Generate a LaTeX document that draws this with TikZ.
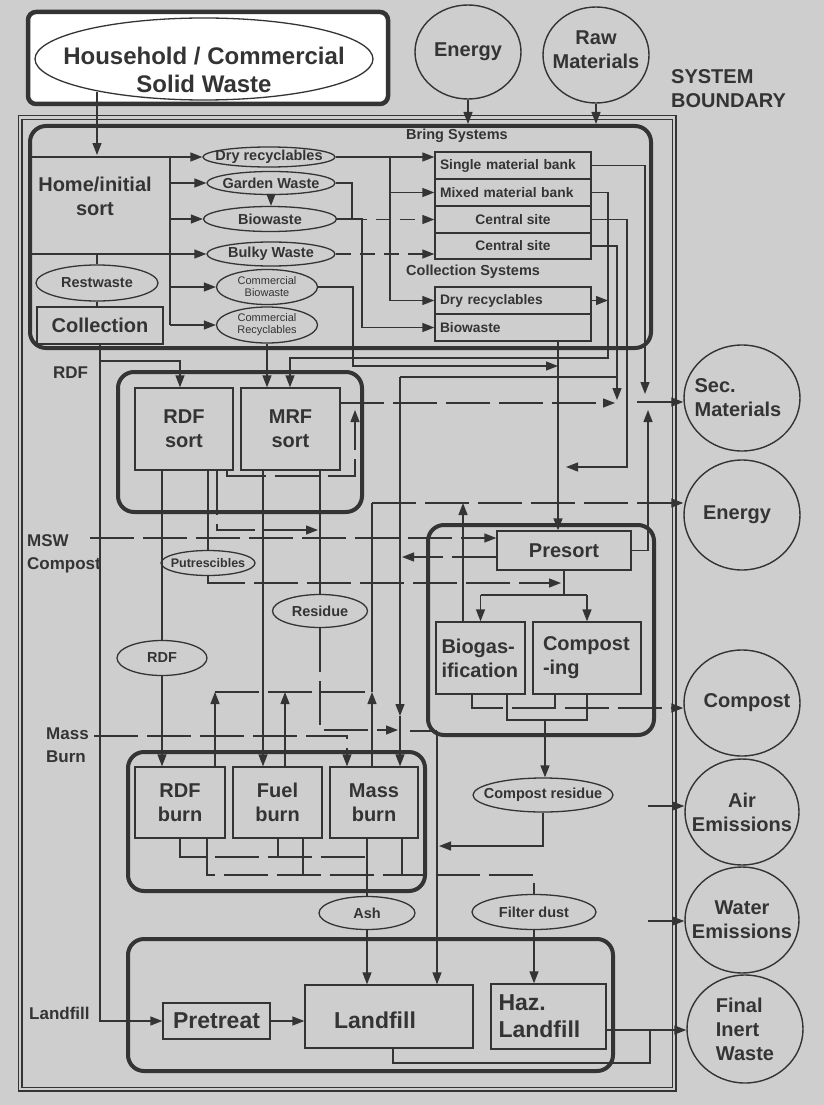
\documentclass[tikz,border=0pt]{standalone}
\usepackage{fontspec}
\setmainfont{Liberation Sans}
\usetikzlibrary{arrows.meta,shapes.geometric}
\definecolor{bg}{RGB}{206,206,206}
\definecolor{ink}{RGB}{52,52,52}
\newcommand\myA{\fontsize{20}{24}\selectfont\bfseries}
\newcommand\myB{\fontsize{14.5}{17}\selectfont\bfseries}
\newcommand\myC{\fontsize{11}{12}\selectfont}
\newcommand\myD{\fontsize{24}{28}\selectfont\bfseries}
\newcommand\myE{\fontsize{23}{27}\selectfont\bfseries}
\newcommand\myF{\fontsize{17}{23}\selectfont\bfseries}
\newcommand\myG{\fontsize{12.5}{14}\selectfont\bfseries}
\newcommand\myH{\fontsize{13.8}{16}\selectfont\bfseries}
\begin{document}
\begin{tikzpicture}[x=1pt,y=-1pt,
  ln/.style={draw=ink, line width=1.3pt},
  arr/.style={ln, -{Triangle[length=12pt,width=9pt]}},
  brk/.style={dash pattern=on 44pt off 9pt},
  sdash/.style={dash pattern=on 15pt off 9pt},
  box/.style={draw=ink, line width=1.3pt, rectangle, inner sep=0pt, text=ink, font=\myA, align=center},
  lbox/.style={box, font=\myH, align=left, text width=146pt},
  cbox/.style={box, font=\myH},
  grp/.style={draw=ink, line width=4pt, rounded corners=16pt, rectangle, inner sep=0pt},
  oval/.style={draw=ink, line width=1.3pt, ellipse, inner sep=0pt},
  circ/.style={oval, line width=1.4pt},
  lab/.style={text=ink, font=\myA, inner sep=0pt, align=center}]

% canvas
\fill[bg] (0,0) rectangle (824,1105);
\useasboundingbox (0,0) rectangle (824,1105);

% system boundary
\draw[ink, line width=1.1pt, double=bg, double distance=2.8pt] (20,117.5) rectangle (674,1089);
\node[lab, anchor=west, align=left] (sysb) at (671,89) {SYSTEM\\BOUNDARY};

% waste source
\node[draw=ink, line width=4.5pt, rounded corners=8pt, fill=white, minimum width=360pt, minimum height=92pt, inner sep=0pt] (hhbox) at (208,58) {};
\node[oval, fill=white, minimum width=338pt, minimum height=82pt] (hhell) at (204,59) {};
\node[lab, font=\myD] (hhtxt) at (204,70) {Household / Commercial\\Solid Waste};

% inputs
\node[circ, minimum width=106pt, minimum height=94pt, label={[lab]center:Energy}] (esrc) at (468,52) {};
\node[circ, minimum width=106pt, minimum height=96pt, label={[lab,yshift=5pt]center:Raw\\Materials}] (raw) at (596,55) {};

% collection block
\node[grp, minimum width=621pt, minimum height=222pt] (collbox) at (340.5,237) {};
\node[lab] (home) at (95,196) {Home/initial\\sort};
\node[oval, minimum width=122pt, minimum height=36pt, label={[lab,font=\myB]center:Restwaste}] (rest) at (97,283) {};
\node[box, minimum width=126pt, minimum height=37pt] (coll) at (100,325.5) {Collection};

\node[oval, minimum width=132pt, minimum height=20pt, label={[lab,font=\myB]center:Dry recyclables}] (dry) at (269,157) {};
\node[oval, minimum width=128pt, minimum height=23pt, label={[lab,font=\myB]center:Garden Waste}] (garden) at (271,183) {};
\node[oval, minimum width=133pt, minimum height=25pt, label={[lab,font=\myB]center:Biowaste}] (bio) at (270,219) {};
\node[oval, minimum width=128pt, minimum height=24pt, label={[lab,font=\myB]center:Bulky Waste}] (bulky) at (271,254) {};
\node[oval, minimum width=101pt, minimum height=35pt, label={[lab,font=\myC]center:Commercial\\Biowaste}] (cbio) at (267,287) {};
\node[oval, minimum width=101pt, minimum height=36pt, label={[lab,font=\myC]center:Commercial\\Recyclables}] (crec) at (267,325) {};

\node[lab, font=\myB, anchor=west] (bringlbl) at (406,136) {Bring Systems};
\node[lbox, minimum width=156pt, minimum height=27pt] (sbank) at (513,165.5) {Single material bank};
\node[lbox, minimum width=156pt, minimum height=27pt] (mbank) at (513,192.5) {Mixed material bank};
\node[cbox, minimum width=156pt, minimum height=27pt] (cs1) at (513,219.5) {Central site};
\node[cbox, minimum width=156pt, minimum height=26pt] (cs2) at (513,246) {Central site};
\node[lab, font=\myB, anchor=west] (colllbl) at (406,272) {Collection Systems};
\node[lbox, minimum width=156pt, minimum height=27pt] (cdry) at (513,300.5) {Dry recyclables};
\node[lbox, minimum width=156pt, minimum height=27pt] (cbw) at (513,327.5) {Biowaste};

% sorting block
\node[grp, minimum width=244pt, minimum height=140pt] (sortbox) at (240,442) {};
\node[box, minimum width=98pt, minimum height=82pt] (rdfsort) at (184,429) {RDF\\sort};
\node[box, minimum width=99pt, minimum height=82pt] (mrf) at (290.5,429) {MRF\\sort};

% biological block
\node[grp, minimum width=226pt, minimum height=210pt] (compbox) at (541,630) {};
\node[box, minimum width=134pt, minimum height=39pt] (presort) at (564,550.5) {Presort};
\node[box, minimum width=89pt, minimum height=72pt, align=left, text width=78pt] (biogas) at (480.5,658) {Biogas-\\ification};
\node[box, minimum width=108pt, minimum height=72pt, align=left, text width=88pt] (composting) at (587,658) {Compost\\-ing};

% thermal block
\node[grp, minimum width=297pt, minimum height=139pt] (burnbox) at (276.5,821.5) {};
\node[box, minimum width=90pt, minimum height=71pt] (rdfburn) at (180,802.5) {RDF\\burn};
\node[box, minimum width=89pt, minimum height=71pt] (fuelburn) at (277.5,802.5) {Fuel\\burn};
\node[box, minimum width=88pt, minimum height=71pt] (massburn) at (374,802.5) {Mass\\burn};

% intermediate streams
\node[oval, minimum width=90pt, minimum height=35pt, label={[lab,font=\myB]center:RDF}] (rdfov) at (162,658) {};
\node[oval, minimum width=94pt, minimum height=25pt, label={[lab,font=\myG]center:Putrescibles}] (put) at (208,563) {};
\node[oval, minimum width=95pt, minimum height=33pt, label={[lab,font=\myB]center:Residue}] (res) at (320,611) {};
\node[oval, minimum width=140pt, minimum height=34pt, label={[lab,font=\myB]center:Compost residue}] (cres) at (543,795) {};
\node[oval, minimum width=96pt, minimum height=33pt, label={[lab,font=\myB]center:Ash}] (ash) at (367,913) {};
\node[oval, minimum width=124pt, minimum height=35pt, label={[lab,font=\myB]center:Filter dust}] (fdust) at (534,912) {};

% landfill block
\node[grp, minimum width=485pt, minimum height=132pt] (landbox) at (370.5,1005) {};
\node[box, font=\myE, minimum width=107pt, minimum height=36pt] (pretreat) at (216.5,1021) {Pretreat};
\node[box, minimum width=168pt, minimum height=63pt, label={[lab,font=\myE,xshift=-14pt,yshift=-4pt]center:Landfill}] (landfill) at (389,1016.5) {};
\node[box, font=\myE, minimum width=115pt, minimum height=65pt, align=left, text width=100pt] (haz) at (548.5,1016.5) {Haz.\\Landfill};

% outputs
\node[circ, minimum width=116pt, minimum height=106pt, label={[lab,align=left,xshift=-4pt]center:Sec.\\Materials}] (secm) at (742,398) {};
\node[circ, minimum width=116pt, minimum height=110pt, label={[lab,xshift=-5pt]center:Energy}] (eout) at (742,515) {};
\node[circ, minimum width=116pt, minimum height=106pt, label={[lab,xshift=5pt]center:Compost}] (cmp) at (742,703) {};
\node[circ, minimum width=114pt, minimum height=106pt, label={[lab]center:Air\\Emissions}] (air) at (742,812) {};
\node[circ, minimum width=114pt, minimum height=106pt, label={[lab]center:Water\\Emissions}] (water) at (742,920) {};
\node[circ, minimum width=116pt, minimum height=108pt, label={[lab,align=left]center:Final\\Inert\\Waste}] (final) at (745,1029) {};

% side labels
\node[lab, font=\myF, anchor=west] (lrdf) at (53,373) {RDF};
\node[lab, font=\myF, anchor=west, align=left] (lmsw) at (27,554) {MSW\\Compost};
\node[lab, font=\myF, anchor=west, align=left] (lmass) at (46,745) {Mass\\Burn};
\node[lab, font=\myF, anchor=west] (lland) at (29,1013) {Landfill};

% ---------- connectors ----------
% source into home sort
\coordinate (hsIn) at (97,92);
\coordinate (hsTop) at (97,155);
\draw[arr] (hsIn) -- (hsTop);
\draw[arr] (esrc.south) -- (esrc.south |- collbox.north);
\draw[arr] (raw.south) -- (raw.south |- collbox.north);

% home sort distribution
\coordinate (hsL1) at (30,157);
\coordinate (hsL2) at (30,254);
\coordinate (bus) at (170,157);
\coordinate (busEnd) at (170,325);
\draw[arr] (hsL1) -- (dry.west);
\draw[arr] (hsL2) -- (bulky.west);
\draw[ln] (bus) -- (busEnd);
\draw[arr] (bus |- garden.west) -- (garden.west);
\draw[arr] (bus |- bio.west) -- (bio.west);
\draw[arr] (bus |- cbio.west) -- (cbio.west);
\draw[arr] (busEnd) -- (crec.west);
\draw[arr] (garden.south) -- (garden.south |- bio.north);
\draw[ln] (hsL2 -| rest.north) -- (rest.north);
\draw[ln] (rest.south) -- (rest.south |- coll.north);

% into bring / collection systems
\coordinate (dbus) at (390,157);
\coordinate (dbusE) at (390,300.5);
\draw[arr] (dry.east) -- (dry.east -| sbank.west);
\draw[ln] (dbus) -- (dbusE);
\draw[arr] (dbus |- mbank.west) -- (mbank.west);
\draw[arr] (dbusE) -- (cdry.west);
\coordinate (gbend) at (352,219.5);
\draw[ln] (garden.east) -| (gbend);
\draw[arr, sdash] (gbend) -- (cs1.west);
\coordinate (bbend) at (362,327.5);
\draw[arr] (bio.east) -| (bbend) -- (cbw.west);
\draw[arr, sdash] (bulky.east) -- (bulky.east -| cs2.west);
\coordinate (cb353) at (353,366);
\coordinate (j558) at (558,366);
\draw[arr] (cbio.east) -| (cb353) -- (j558);
\draw[arr] (crec.south) -- (crec.south |- mrf.north);

% bring systems outputs
\coordinate (s645) at (645,394);
\draw[arr] (sbank.east) -| (s645);
\coordinate (m608) at (608,358);
\coordinate (m290) at (290,358);
\draw[arr] (mbank.east) -| (m608) -- (m290) -- (m290 |- mrf.north);
\draw[arr] (cdry.east) -- (cdry.east -| m608);
\coordinate (c627) at (627,467);
\coordinate (c565) at (566,467);
\draw[arr] (cs1.east) -| (c627) -- (c565);
\coordinate (c617) at (617,400);
\draw[arr] (cs2.east) -| (c617);
\coordinate (c617b) at (617,377);
\coordinate (c400) at (400,377);
\coordinate (c400m) at (400,716);
\draw[ln] (c617b) -- (c400);
\draw[arr] (c400) -- (c400m);
\draw[arr] (c400m) -- (c400m |- massburn.north);
\draw[arr] (cbw.south -| j558) -- (j558 |- presort.north);

% sorting
\coordinate (r100) at (100,361);
\coordinate (r180) at (180,361);
\draw[arr] (r100) -- (r180) -- (r180 |- rdfsort.north);
\coordinate (m403) at (340,403);
\coordinate (j615) at (615,403);
\draw[arr, brk] (m403) -- (j615);
\coordinate (r227) at (227,476);
\coordinate (r355) at (355,476);
\coordinate (r355u) at (355,410);
\draw[arr, brk] (rdfsort.south -| r227) -- (r227) -- (r355) -- (r355u);
\coordinate (secj) at (637,402);
\draw[arr] (secj) -- (secj -| secm.west);
\coordinate (p648) at (648,410);
\draw[arr] (presort.east) -| (p648);

\draw[ln] (rdfsort.south -| rdfov.north) -- (rdfov.north);
\draw[arr] (rdfov.south) -- (rdfov.south |- rdfburn.north);
\draw[ln] (rdfsort.south -| put.north) -- (put.north);
\coordinate (p562) at (561,583);
\draw[arr, brk] (put.south) |- (p562);
\coordinate (r217) at (217,530);
\coordinate (r318) at (318,530);
\draw[arr, brk] (rdfsort.south -| r217) -- (r217) -- (r318);
\draw[ln] (mrf.south -| res.north) -- (res.north);
\coordinate (r398) at (398,730);
\draw[arr, brk] (res.south) |- (r398);
\coordinate (f263) at (263,600);
\draw[arr] (mrf.south -| f263) -- (f263 |- fuelburn.north);

% energy recovery
\coordinate (e372t) at (372,503);
\coordinate (e372b) at (372,692);
\coordinate (e215) at (215,692);
\coordinate (e285) at (285,692);
\draw[ln] (e372b) -- (e372t);
\draw[ln, brk] (e215) -- (e372b);
\draw[arr, brk] (e372t) -- (e372t -| eout.west);
\draw[arr] (rdfburn.north -| e215) -- (e215);
\draw[arr] (fuelburn.north -| e285) -- (e285);
\draw[arr] (massburn.north -| e372b) -- (e372b);
\coordinate (b463) at (463,503);
\draw[arr] (biogas.north -| b463) -- (b463);

% biological treatment
\coordinate (msw) at (90,538);
\draw[arr, brk] (msw) -- (msw -| presort.west);
\coordinate (rej) at (402,557);
\draw[arr, brk] (rej -| presort.west) -- (rej);
\coordinate (ps) at (564,595);
\coordinate (psL) at (480.5,595);
\coordinate (psR) at (587,595);
\draw[ln] (presort.south) -- (ps);
\draw[ln] (psL) -- (psR);
\draw[arr] (psL) -- (biogas.north);
\draw[arr] (psR) -- (composting.north);
\coordinate (k472) at (472,708);
\coordinate (k555) at (555,708);
\coordinate (k507) at (507,720);
\coordinate (k587) at (587,720);
\coordinate (k545) at (545,720);
\draw[arr, brk] (biogas.south -| k472) -- (k472) -- (k472 -| cmp.west);
\draw[ln] (composting.south -| k555) -- (k555);
\draw[ln] (biogas.south -| k507) -- (k507) -- (k587) -- (composting.south -| k587);
\draw[arr] (k545) -- (k545 |- cres.north);
\coordinate (c439) at (439,846);
\draw[arr] (cres.south) |- (c439);

% thermal treatment
\coordinate (mb) at (94,736);
\coordinate (mb347) at (347,736);
\draw[arr, brk] (mb) -- (mb347) -- (mb347 |- massburn.north);
\coordinate (c410) at (410,731);
\coordinate (c437) at (437,731);
\draw[ln] (c410) -- (c437);
\draw[arr] (c437) -- (c437 |- landfill.north);
\coordinate (a367) at (367,857);
\coordinate (a278) at (278,857);
\draw[ln, brk] (rdfburn.south) |- (a367);
\draw[ln] (fuelburn.south -| a278) -- (a278);
\draw[ln] (massburn.south -| a367) -- (ash.north);
\coordinate (b207) at (207,875);
\coordinate (b303) at (303,875);
\coordinate (b402) at (402,875);
\coordinate (b534) at (534,875);
\draw[ln, brk] (rdfburn.south -| b207) -- (b207) -- (b534) -- (fdust.north);
\draw[ln] (fuelburn.south -| b303) -- (b303);
\draw[ln] (massburn.south -| b402) -- (b402);
\draw[arr] (ash.south) -- (ash.south |- landfill.north);
\draw[arr] (fdust.south) -- (fdust.south |- haz.north);

% landfill
\draw[arr] (coll.south) |- (pretreat.west);
\draw[arr] (pretreat.east) -- (landfill.west |- pretreat.east);
\coordinate (h1030) at (606,1030);
\draw[arr] (h1030) -- (h1030 -| final.west);
\coordinate (l393) at (393,1063);
\coordinate (l650) at (650,1063);
\draw[ln] (landfill.south -| l393) -- (l393) -- (l650) -- (l650 |- h1030);

% emissions
\coordinate (airIn) at (648,806);
\draw[arr] (airIn) -- (airIn -| air.west);
\coordinate (watIn) at (648,921);
\draw[arr] (watIn) -- (watIn -| water.west);
\end{tikzpicture}
\end{document}
